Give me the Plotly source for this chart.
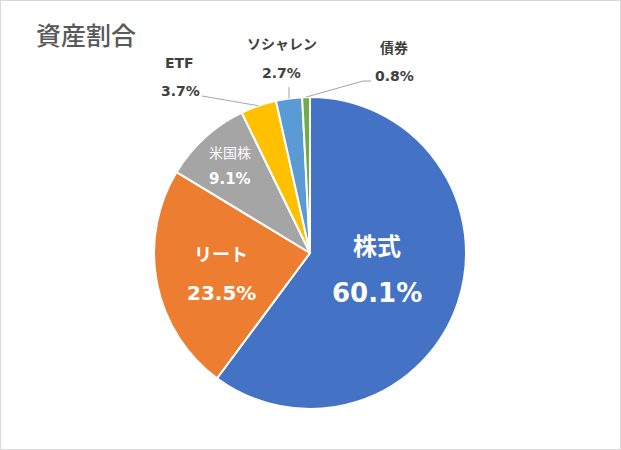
import math
import plotly.graph_objects as go

# 資産割合のデータ
labels = ["株式", "リート", "米国株", "ETF", "ソシャレン", "債券"]
values = [60.1, 23.5, 9.1, 3.7, 2.7, 0.8]
colors = ["#4472C4", "#ED7D31", "#A5A5A5", "#FFC000", "#5B9BD5", "#70AD47"]

W, H = 621, 450
CX, CY, R = 310, 253, 156  # 円の中心と半径 (px)


def px(x):
    return x / W


def py(y):
    return 1 - y / H


def edge_point(i):
    # スライス中央の角度で円周上の点を求める
    total = sum(values)
    mid = (sum(values[:i]) + values[i] / 2) / total
    a = 2 * math.pi * mid
    return CX + R * math.sin(a), CY - R * math.cos(a)


fig = go.Figure(layout=dict(width=W, height=H))
fig.add_trace(go.Pie(
    labels=labels, values=values, sort=False, direction="clockwise", rotation=0,
    marker=dict(colors=colors, line=dict(color="white", width=2)),
    textinfo="none", hoverinfo="label+value", showlegend=False,
    domain=dict(x=[px(CX - R), px(CX + R)], y=[py(CY + R), py(CY - R)]),
))

FONT = "DejaVu Sans, Noto Sans CJK JP"
ann = []


def label(text, x, y, size, color, bold=True):
    t = "<b>%s</b>" % text if bold else text
    ann.append(dict(text=t, x=px(x), y=py(y), xref="paper", yref="paper",
                    showarrow=False, xanchor="center", yanchor="middle",
                    font=dict(family=FONT, size=size, color=color)))


# 内側のラベル
inside = {0: (377, 247, 293, 24, 26), 1: (221, 254, 293, 18, 20), 2: (230, 153, 179, 14, 15)}
for i, (x, y1, y2, s1, s2) in inside.items():
    label(labels[i], x, y1, s1, "white", bold=(i != 2))
    label("%.1f%%" % values[i], x, y2, s2, "white")

# 外側のラベルと引き出し線
outside = {3: (179, 63, 180, 91), 4: (282, 44, 281, 73), 5: (394, 48, 394, 76)}
for i, (x1, y1, x2, y2) in outside.items():
    label(labels[i], x1, y1, 14, "#404040")
    label("%.1f%%" % values[i], x2, y2, 14, "#404040")

shapes = []
lead = {3: [(202, 96)], 4: [(289, 87)], 5: [(371, 81), (363, 81)]}
for i, pts in lead.items():
    pts = pts + [edge_point(i)]
    for (xa, ya), (xb, yb) in zip(pts[:-1], pts[1:]):
        shapes.append(dict(type="line", xref="paper", yref="paper",
                           x0=px(xa), y0=py(ya), x1=px(xb), y1=py(yb),
                           line=dict(color="#A6A6A6", width=1)))

# タイトル
ann.append(dict(text="資産割合", x=px(34), y=py(34), xref="paper", yref="paper",
                showarrow=False, xanchor="left", yanchor="middle",
                font=dict(family="Noto Sans CJK JP", size=25, color="#595959", weight=500)))

# 枠線
shapes.append(dict(type="rect", xref="paper", yref="paper",
                   x0=px(0.5), y0=py(449.5), x1=px(620.5), y1=py(0.5),
                   line=dict(color="#D9D9D9", width=1)))

fig.update_layout(annotations=ann, shapes=shapes,
                  margin=dict(l=0, r=0, t=0, b=0),
                  paper_bgcolor="white", plot_bgcolor="white")
fig.write_html("out.html", config={"displayModeBar": False},
               post_script="document.body.style.margin='0';")
